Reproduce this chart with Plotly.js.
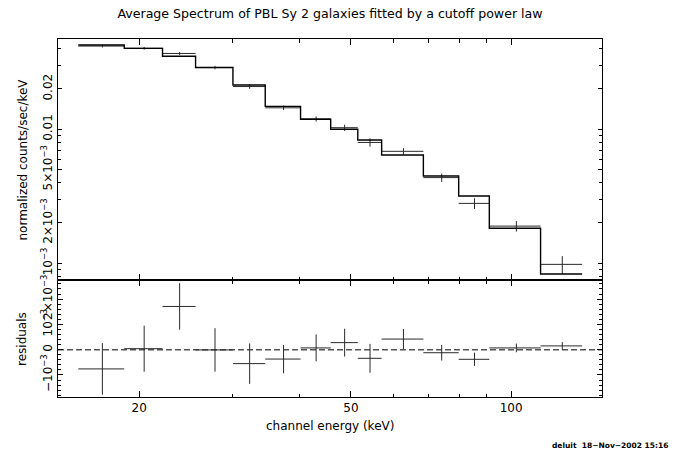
<!DOCTYPE html>
<html>
<head>
<meta charset="utf-8">
<script src="https://cdn.plot.ly/plotly-3.0.1.min.js"></script>
<style>html,body{margin:0;padding:0;background:#fff;} #chart{width:686px;height:461px;}</style>
</head>
<body>
<div id="chart"></div>
<script>
// Channel bins (keV)
var eLo = [15.36, 18.74, 22.12, 25.52, 30.0, 34.5, 40.2, 45.8, 51.5, 57.1, 68.4, 79.7, 91.0, 113.6];
var eHi = [18.74, 22.12, 25.52, 30.0, 34.5, 40.2, 45.8, 51.5, 57.1, 68.4, 79.7, 91.0, 113.6, 136.0];
// Cutoff power-law model (normalized counts/sec/keV)
var model = [0.04257, 0.0402, 0.0351, 0.0289, 0.0214, 0.01484, 0.01188, 0.0100, 0.00832, 0.00643, 0.00448, 0.00318, 0.001825, 0.000832];
// Residuals (data - model) and 1-sigma errors
var resid = [-0.00076, 0.00004, 0.00171, -0.00001, -0.00055, -0.00037, 0.00007, 0.00028, -0.00034, 0.00042, -0.00012, -0.00038, 0.00007, 0.00015];
var errs  = [0.00102, 0.00091, 0.00092, 0.00086, 0.00080, 0.00056, 0.00053, 0.00055, 0.00057, 0.00040, 0.00031, 0.00026, 0.00017, 0.00015];

var xTickVals = [20, 50, 100];
var xTickText = ["20", "50", "100"];
var xMinorVals = [30, 40, 60, 70, 80, 90];
var yTopTickVals = [0.001, 0.002, 0.005, 0.01, 0.02];
var yTopTickText = ["10<sup>\u22123</sup>", "2\u00d710<sup>\u22123</sup>", "5\u00d710<sup>\u22123</sup>", "0.01", "0.02"];
var yTopMinorVals = [0.0008, 0.0009, 0.003, 0.004, 0.006, 0.007, 0.008, 0.009, 0.03, 0.04];
var yResTickVals = [-0.001, 0, 0.001, 0.002];
var yResTickText = ["\u221210<sup>\u22123</sup>", "0", "10<sup>\u22123</sup>", "2\u00d710<sup>\u22123</sup>"];

var eMid = eLo.map(function(l, i){ return (l + eHi[i]) / 2; });
var data = model.map(function(m, i){ return m + resid[i]; });
var exPlus = eMid.map(function(c, i){ return eHi[i] - c; });
var exMinus = eMid.map(function(c, i){ return c - eLo[i]; });

var stepX = eLo.concat([eHi[eHi.length - 1]]);
var stepY = model.concat([model[model.length - 1]]);

var font = {family: "DejaVu Sans, Liberation Sans, Arial, sans-serif", size: 12, color: "#000"};
var titleFont = {family: "DejaVu Sans, Liberation Sans, Arial, sans-serif", size: 12.6, color: "#000"};
var crossColor = "#2a2a2a";

var traces = [
  {x: eMid, y: data, xaxis: "x2", yaxis: "y", type: "scatter", mode: "markers",
   marker: {size: 1, color: "rgba(0,0,0,0)"},
   error_x: {type: "data", symmetric: false, array: exPlus, arrayminus: exMinus, width: 0, thickness: 1, color: crossColor},
   error_y: {type: "data", array: errs, width: 0, thickness: 1, color: crossColor},
   hoverinfo: "skip", showlegend: false},
  {x: stepX, y: stepY, xaxis: "x2", yaxis: "y", type: "scatter", mode: "lines",
   line: {shape: "hv", color: "#000", width: 1.4}, hoverinfo: "skip", showlegend: false},
  {x: eMid, y: resid, xaxis: "x", yaxis: "y2", type: "scatter", mode: "markers",
   marker: {size: 1, color: "rgba(0,0,0,0)"},
   error_x: {type: "data", symmetric: false, array: exPlus, arrayminus: exMinus, width: 0, thickness: 1, color: crossColor},
   error_y: {type: "data", array: errs, width: 0, thickness: 1, color: crossColor},
   hoverinfo: "skip", showlegend: false}
];

var split = 117 / 358;
var xRange = [Math.log10(14.07), Math.log10(148.2)];

var xCommon = {
  type: "log", range: xRange, showline: true, linecolor: "#000", linewidth: 1,
  mirror: "allticks", ticks: "inside", ticklen: 6, tickwidth: 1, tickcolor: "#000",
  tickmode: "array", tickvals: xTickVals, ticktext: xTickText,
  minor: {tickmode: "array", tickvals: xMinorVals, ticks: "inside", ticklen: 3.5, tickwidth: 1, tickcolor: "#000", showgrid: false},
  showgrid: false, zeroline: false, tickfont: font
};

var layout = {
  width: 686, height: 461,
  margin: {l: 58, r: 84, t: 39, b: 64},
  paper_bgcolor: "#fff", plot_bgcolor: "#fff",
  font: font,
  showlegend: false,
  title: {text: "Average Spectrum of PBL Sy 2 galaxies fitted by a cutoff power law",
          font: titleFont, x: 0.5, xref: "paper", y: 1 - 14 / 461, yref: "container", yanchor: "middle", xanchor: "center"},
  xaxis: Object.assign({}, xCommon, {anchor: "y2", domain: [0, 1]}),
  xaxis2: Object.assign({}, xCommon, {anchor: "y", domain: [0, 1], matches: "x", showticklabels: false}),
  yaxis: {
    type: "log", domain: [split, 1], range: [-3.1246, -1.3261], anchor: "x2",
    showline: true, linecolor: "#000", linewidth: 1, mirror: "allticks",
    ticks: "inside", ticklen: 4, tickwidth: 1, tickcolor: "#000",
    tickmode: "array", tickvals: yTopTickVals, ticktext: yTopTickText, tickangle: -90,
    minor: {tickmode: "array", tickvals: yTopMinorVals, ticks: "inside", ticklen: 3, tickwidth: 1, tickcolor: "#000", showgrid: false},
    showgrid: false, zeroline: false, tickfont: font
  },
  yaxis2: {
    domain: [0, split], range: [-0.00187, 0.002755], anchor: "x",
    showline: true, linecolor: "#000", linewidth: 1, mirror: "allticks",
    ticks: "inside", ticklen: 5, tickwidth: 1, tickcolor: "#000",
    tickmode: "array", tickvals: yResTickVals, ticktext: yResTickText, tickangle: -90,
    minor: {dtick: 0.0002, ticks: "inside", ticklen: 3, tickwidth: 1, tickcolor: "#000", showgrid: false},
    showgrid: false, zeroline: false, tickfont: font
  },
  shapes: [
    {type: "line", xref: "paper", x0: 0, x1: 1, yref: "y2", y0: 0, y1: 0,
     line: {color: "#555", width: 1.5, dash: "6px,3px"}, layer: "below"}
  ],
  annotations: [
    {text: "normalized counts/sec/keV", xref: "paper", yref: "paper", x: (22 - 58) / 544, y: (397 - 159.5) / 358,
     xanchor: "center", yanchor: "middle", textangle: -90, showarrow: false, font: font},
    {text: "residuals", xref: "paper", yref: "paper", x: (22 - 58) / 544, y: (397 - 339) / 358,
     xanchor: "center", yanchor: "middle", textangle: -90, showarrow: false, font: font},
    {text: "channel energy (keV)", xref: "paper", yref: "paper", x: 0.5, y: (397 - 426) / 358,
     xanchor: "center", yanchor: "middle", showarrow: false, font: font},
    {text: "deluit  18\u2212Nov\u22122002 15:16", xref: "paper", yref: "paper", x: (670 - 58) / 544, y: (397 - 446) / 358,
     xanchor: "right", yanchor: "middle", showarrow: false,
     font: {family: "DejaVu Sans, Arial, sans-serif", size: 7.5, color: "#000", weight: "bold"}}
  ]
};

Plotly.newPlot("chart", traces, layout, {staticPlot: true, displayModeBar: false});
</script>
</body>
</html>
